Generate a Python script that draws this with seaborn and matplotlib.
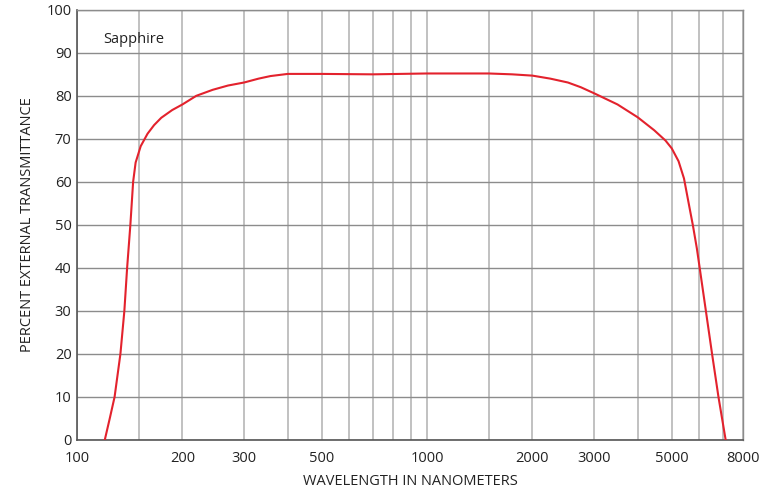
import matplotlib
matplotlib.use("Agg")
import matplotlib.pyplot as plt
import seaborn as sns
import pandas as pd
from matplotlib.ticker import FixedLocator, NullFormatter

# Data
wavelength_nm = [120, 124, 128, 133, 136.5, 139, 142, 144.6, 147, 152, 159,
                 166, 174, 187, 200, 219, 244, 270, 300, 330, 357, 400, 500,
                 700, 1000, 1500, 1750, 2000, 2250, 2526, 2750, 3000, 3500,
                 4000, 4456, 4800, 5000, 5230, 5420, 5615, 5750, 5900, 6010,
                 6260, 6520, 6800, 7130]
transmittance = [0, 5, 10, 20, 30, 40, 50, 60, 64.5, 68.3, 71.2,
                 73.2, 74.9, 76.7, 78.0, 80.0, 81.4, 82.4, 83.1, 84.0, 84.6,
                 85.1, 85.1, 85.0, 85.2, 85.2, 85.0, 84.7, 84.0, 83.1, 82.0,
                 80.6, 78.0, 75.0, 72.0, 69.6, 67.8, 64.8, 60.8, 54.2, 49.8,
                 44.5, 40, 30, 20, 10, 0]
major_ticks = [100, 200, 300, 500, 1000, 2000, 3000, 5000, 8000]
minor_ticks = [150, 400, 600, 700, 800, 900, 1500, 4000, 6000, 7000]
y_ticks = [0, 10, 20, 30, 40, 50, 60, 70, 80, 90, 100]

df = pd.DataFrame({"wavelength": wavelength_nm, "T": transmittance})

sns.set_style("white")
plt.rcParams["font.family"] = ["Open Sans", "DejaVu Sans"]

fig = plt.figure(figsize=(7.63, 4.91), dpi=100)
ax = fig.add_axes([0.101, 0.104, 0.873, 0.876])

sns.lineplot(data=df, x="wavelength", y="T", ax=ax, color="#e3222d",
             linewidth=1.5, sort=False, zorder=3)

ax.set_xscale("log")
ax.set_xlim(100, 8000)
ax.set_ylim(0, 100)
ax.xaxis.set_major_locator(FixedLocator(major_ticks))
ax.set_xticklabels([str(t) for t in major_ticks])
ax.xaxis.set_minor_locator(FixedLocator(minor_ticks))
ax.xaxis.set_minor_formatter(NullFormatter())
ax.set_yticks(y_ticks)
ax.set_yticklabels([str(t) for t in y_ticks])

ax.grid(True, which="major", axis="x", color="#b0b0b0", linewidth=1.1)
ax.grid(True, which="minor", axis="x", color="#b0b0b0", linewidth=1.1)
ax.grid(True, which="major", axis="y", color="#8c8c8c", linewidth=1.0)
ax.set_axisbelow(True)

ax.tick_params(axis="both", which="both", length=0, labelsize=10.5,
               colors="#222222")
ax.tick_params(axis="x", pad=8)
ax.tick_params(axis="y", pad=4)

for side in ["left", "bottom"]:
    ax.spines[side].set_color("#555555")
    ax.spines[side].set_linewidth(1.2)
for side in ["top", "right"]:
    ax.spines[side].set_color("#8c8c8c")
    ax.spines[side].set_linewidth(1.0)

ax.set_xlabel("WAVELENGTH IN NANOMETERS", fontsize=10.5, color="#222222",
              labelpad=6)
ax.set_ylabel("PERCENT EXTERNAL TRANSMITTANCE", fontsize=10.5,
              color="#222222", labelpad=8)

ax.text(0.040, 0.93, "Sapphire", transform=ax.transAxes, fontsize=10.5,
        color="#222222", va="center", ha="left")

fig.savefig("out.png", dpi=100)
